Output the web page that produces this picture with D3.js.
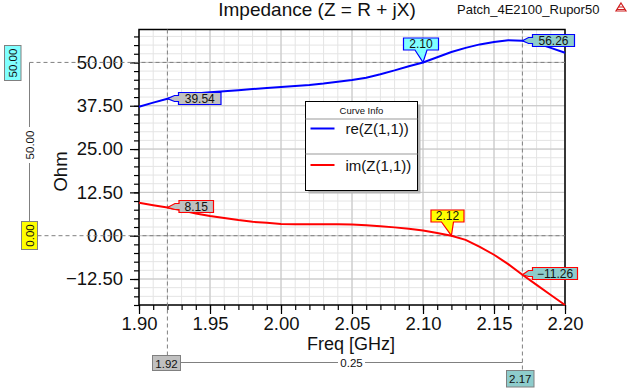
<!DOCTYPE html>
<html>
<head>
<meta charset="utf-8">
<script src="https://cdn.jsdelivr.net/npm/d3@7"></script>
<style>
  body { margin: 0; background: #fff; }
  svg { font-family: "Liberation Sans", Arial, sans-serif; }
</style>
</head>
<body>
<svg id="chart" width="636" height="389"></svg>
<script>
// frequency sweep (GHz) and the two curves
let freq = [1.90, 1.91, 1.92, 1.93, 1.94, 1.95, 1.96, 1.97, 1.98, 1.99, 2.00,
            2.01, 2.02, 2.03, 2.04, 2.05, 2.06, 2.07, 2.08, 2.09, 2.10,
            2.11, 2.12, 2.13, 2.14, 2.15, 2.16, 2.17, 2.18, 2.19, 2.20]
let reZ = [37.2, 38.4, 39.54, 40.4, 41.0, 41.4, 41.7, 42.0, 42.3, 42.6, 42.9,
           43.2, 43.5, 43.9, 44.4, 44.9, 45.6, 46.6, 47.7, 48.9, 50.0,
           51.5, 53.0, 54.2, 55.2, 55.9, 56.4, 56.26, 55.6, 54.2, 52.8]
let imZ = [9.5, 8.8, 8.15, 7.3, 6.4, 5.7, 5.1, 4.5, 4.0, 3.7, 3.4,
           3.3, 3.3, 3.3, 3.3, 3.2, 3.0, 2.7, 2.4, 2.0, 1.5,
           0.8, 0.0, -1.2, -3.2, -5.5, -8.2, -11.26, -14.2, -17.1, -20.0]

let seriesNames = ["re(Z(1,1))", "im(Z(1,1))"]
let seriesColors = ["#0000ff", "#ff0000"]

let xTicks = [1.90, 1.95, 2.00, 2.05, 2.10, 2.15, 2.20]
let yTicks = [-12.5, 0, 12.5, 25, 37.5, 50]

// x markers (m1, m2) with the values they read on each curve
let markerFreq = [1.92, 2.17]
let markerRe = [39.54, 56.26]
let markerIm = [8.15, -11.26]
// y markers
let yMarkers = [50, 0]
// x at which the curves cross the y markers
let crossRe = 2.10
let crossIm = 2.12

let pLeft = 139, pRight = 565, pTop = 29.5, pBottom = 305

let svg = d3.select("#chart")

let x = d3.scaleLinear().domain([1.9, 2.2]).range([pLeft, pRight])
let y = d3.scaleLinear().domain([-20, 59.5]).range([pBottom, pTop])

let xMinor = d3.range(0, 31).map(i => 1.9 + i * 0.01)
let yMinor = d3.range(0, 32).map(i => -20 + i * 2.5)

// grid
let grid = svg.append("g")
grid.selectAll(".vminor").data(xMinor)
  .enter().append("line")
  .attr("x1", d => x(d)).attr("x2", d => x(d))
  .attr("y1", pTop).attr("y2", pBottom)
  .attr("stroke", "#e4e4e4")
grid.selectAll(".hminor").data(yMinor)
  .enter().append("line")
  .attr("x1", pLeft).attr("x2", pRight)
  .attr("y1", d => y(d)).attr("y2", d => y(d))
  .attr("stroke", "#e4e4e4")
grid.selectAll(".vmajor").data(xTicks)
  .enter().append("line")
  .attr("x1", d => x(d)).attr("x2", d => x(d))
  .attr("y1", pTop).attr("y2", pBottom)
  .attr("stroke", "#c4c4c4")
grid.selectAll(".hmajor").data(yTicks)
  .enter().append("line")
  .attr("x1", pLeft).attr("x2", pRight)
  .attr("y1", d => y(d)).attr("y2", d => y(d))
  .attr("stroke", "#c4c4c4")

// frame
svg.append("rect")
  .attr("x", pLeft).attr("y", pTop)
  .attr("width", pRight - pLeft).attr("height", pBottom - pTop)
  .attr("fill", "none").attr("stroke", "#000").attr("stroke-width", 1.5)

// axes
let yAxisMinor = d3.axisLeft(y).tickValues(yMinor).tickSize(5).tickFormat("")
svg.append("g").attr("transform", `translate(${pLeft},0)`).call(yAxisMinor)
let yAxis = d3.axisLeft(y).tickValues(yTicks).tickSize(9).tickPadding(7)
  .tickFormat(d3.format(".2f"))
let gy = svg.append("g").attr("transform", `translate(${pLeft},0)`).call(yAxis)

let xAxisMinor = d3.axisBottom(x).tickValues(xMinor).tickSize(5).tickFormat("")
svg.append("g").attr("transform", `translate(0,${pBottom})`).call(xAxisMinor)
let xAxis = d3.axisBottom(x).tickValues(xTicks).tickSize(9).tickPadding(2.5)
  .tickFormat(d3.format(".2f"))
let gx = svg.append("g").attr("transform", `translate(0,${pBottom})`).call(xAxis)

svg.selectAll(".domain").remove()
svg.selectAll(".tick line").attr("stroke", "#000").attr("stroke-width", 1.2)
gy.selectAll("text").attr("font-size", 18.5).attr("fill", "#111")
  .attr("font-family", "Liberation Sans, Arial, sans-serif")
gx.selectAll("text").attr("font-size", 18.5).attr("fill", "#111")
  .attr("font-family", "Liberation Sans, Arial, sans-serif")

// titles
svg.append("text").attr("x", 317).attr("y", 16).attr("text-anchor", "middle")
  .attr("font-size", 19).attr("fill", "#111").text("Impedance (Z = R + jX)")
svg.append("text").attr("x", 457).attr("y", 14)
  .attr("font-size", 13).attr("fill", "#111").text("Patch_4E2100_Rupor50")
svg.append("text").attr("x", 351).attr("y", 349.5).attr("text-anchor", "middle")
  .attr("font-size", 18).attr("fill", "#111").text("Freq [GHz]")
svg.append("text").attr("transform", "translate(66.5,171.5) rotate(-90)")
  .attr("text-anchor", "middle")
  .attr("font-size", 18.5).attr("fill", "#111").text("Ohm")

// small logo at the top right
let logo = svg.append("g").attr("transform", "translate(621,3)")
logo.append("path").attr("d", "M0,0 L5,8 L-5,8 Z").attr("fill", "none")
  .attr("stroke", "#d02020").attr("stroke-width", 1.2)
logo.append("path").attr("d", "M-2.5,4 L2.5,4 M-4,6.5 L4,6.5").attr("stroke", "#d02020")

// dashed marker lines
let dash = "4,3"
markerFreq.forEach((f, i) => {
  svg.append("line")
    .attr("x1", x(f)).attr("x2", x(f))
    .attr("y1", pTop).attr("y2", i == 0 ? 356 : 370)
    .attr("stroke", "#808080").attr("stroke-dasharray", dash)
})
yMarkers.forEach((v, i) => {
  svg.append("line")
    .attr("x1", i == 0 ? 29.5 : 37.5).attr("x2", pRight)
    .attr("y1", y(v)).attr("y2", y(v))
    .attr("stroke", "#808080").attr("stroke-dasharray", dash)
})

// curves
let line = d3.line().x(d => x(d[0])).y(d => y(d[1]))
let curves = [reZ, imZ]
curves.forEach((vals, i) => {
  svg.append("path")
    .datum(freq.map((f, k) => [f, vals[k]]))
    .attr("d", line)
    .attr("fill", "none")
    .attr("stroke", seriesColors[i])
    .attr("stroke-width", 2)
})

// legend
let lg = svg.append("g").attr("transform", "translate(305.5,101.5)")
lg.append("rect").attr("x", 3).attr("y", 3).attr("width", 112).attr("height", 89).attr("fill", "#b4b4b4")
lg.append("rect").attr("width", 112).attr("height", 89).attr("fill", "#fff").attr("stroke", "#000")
lg.append("text").attr("x", 56).attr("y", 12).attr("text-anchor", "middle")
  .attr("font-size", 9.5).attr("fill", "#111").text("Curve Info")
lg.append("line").attr("x1", 0).attr("x2", 112).attr("y1", 17.5).attr("y2", 17.5).attr("stroke", "#999")
lg.append("line").attr("x1", 0).attr("x2", 112).attr("y1", 52.5).attr("y2", 52.5).attr("stroke", "#999")
seriesNames.forEach((name, i) => {
  let cy = 27 + i * 36.5
  lg.append("line").attr("x1", 5).attr("x2", 29).attr("y1", cy).attr("y2", cy)
    .attr("stroke", seriesColors[i]).attr("stroke-width", 2)
  lg.append("text").attr("x", 40).attr("y", cy + 5.5)
    .attr("font-size", 15).attr("fill", "#111").text(name)
})

// callout with a pointer to the left
function sideCallout(px, py, bx, by, w, h, fill, stroke, label) {
  let g = svg.append("g")
  let my = by + h / 2
  g.append("path")
    .attr("d", `M${px},${py} L${bx - 4},${my - 3} L${bx},${my - 3} L${bx},${by} L${bx + w},${by} L${bx + w},${by + h} L${bx},${by + h} L${bx},${my + 3} L${bx - 4},${my + 3} Z`)
    .attr("fill", fill).attr("stroke", stroke).attr("stroke-width", 1.2)
  g.append("text").attr("x", bx + w / 2).attr("y", by + h / 2 + 4.3)
    .attr("text-anchor", "middle").attr("font-size", 12).attr("fill", "#111").text(label)
}
// callout with a pointer below
function downCallout(px, py, bx, by, w, h, fill, stroke, label) {
  let g = svg.append("g")
  let mx = bx + w / 2
  g.append("path")
    .attr("d", `M${bx},${by} L${bx + w},${by} L${bx + w},${by + h} L${mx + 6},${by + h} L${px},${py} L${mx - 6},${by + h} L${bx},${by + h} Z`)
    .attr("fill", fill).attr("stroke", stroke).attr("stroke-width", 1.2)
  g.append("text").attr("x", mx).attr("y", by + h / 2 + 4.3)
    .attr("text-anchor", "middle").attr("font-size", 12).attr("fill", "#111").text(label)
}

let fmt = d3.format(".2f")
sideCallout(x(markerFreq[0]), y(markerRe[0]), 178.5, 92.5, 42.5, 12, "#c0c0c0", "#0000ff", fmt(markerRe[0]))
sideCallout(x(markerFreq[1]), y(markerRe[1]), 532.5, 34.5, 42, 12, "#8ecccc", "#0000ff", fmt(markerRe[1]))
sideCallout(x(markerFreq[0]), y(markerIm[0]), 179, 200.5, 34.5, 12, "#c0c0c0", "#ff0000", fmt(markerIm[0]))
sideCallout(x(markerFreq[1]), y(markerIm[1]), 532.5, 267.5, 45, 12, "#8ecccc", "#ff0000", fmt(markerIm[1]))
downCallout(x(crossRe), y(yMarkers[0]), 403.5, 38, 35, 12, "#80ffff", "#0000ff", fmt(crossRe))
downCallout(x(crossIm), y(yMarkers[1]), 431, 210, 33, 12, "#ffff00", "#ff0000", fmt(crossIm))

// delta between x markers
svg.append("line").attr("x1", 180.5).attr("x2", x(markerFreq[1]))
  .attr("y1", 362.5).attr("y2", 362.5).attr("stroke", "#808080")
svg.append("rect").attr("x", 338).attr("y", 356).attr("width", 27).attr("height", 13).attr("fill", "#fff")
svg.append("text").attr("x", 351.5).attr("y", 366.5).attr("text-anchor", "middle")
  .attr("font-size", 11.5).attr("fill", "#111").text(fmt(markerFreq[1] - markerFreq[0]))
svg.append("rect").attr("x", 152.5).attr("y", 355.5).attr("width", 28).attr("height", 15)
  .attr("fill", "#c0c0c0").attr("stroke", "#808080")
svg.append("text").attr("x", 166.5).attr("y", 367.5).attr("text-anchor", "middle")
  .attr("font-size", 11.5).attr("fill", "#111").text(fmt(markerFreq[0]))
svg.append("rect").attr("x", 506.5).attr("y", 370.5).attr("width", 27.5).attr("height", 16.5)
  .attr("fill", "#8ecccc").attr("stroke", "#808080")
svg.append("text").attr("x", 520.3).attr("y", 383).attr("text-anchor", "middle")
  .attr("font-size", 11.5).attr("fill", "#111").text(fmt(markerFreq[1]))

// delta between y markers (left side)
svg.append("line").attr("x1", 29.5).attr("x2", 29.5)
  .attr("y1", y(yMarkers[0])).attr("y2", 222).attr("stroke", "#808080")
svg.append("rect").attr("x", 23).attr("y", 127).attr("width", 13).attr("height", 36).attr("fill", "#fff")
svg.append("text").attr("transform", "translate(34,145) rotate(-90)").attr("text-anchor", "middle")
  .attr("font-size", 11.5).attr("fill", "#111").text(fmt(yMarkers[0] - yMarkers[1]))
svg.append("rect").attr("x", 4.5).attr("y", 45.5).attr("width", 16.5).attr("height", 35)
  .attr("fill", "#80ffff").attr("stroke", "#808080")
svg.append("text").attr("transform", `translate(17,63) rotate(-90)`).attr("text-anchor", "middle")
  .attr("font-size", 11.5).attr("fill", "#111").text(fmt(yMarkers[0]))
svg.append("rect").attr("x", 21.5).attr("y", 221.5).attr("width", 16).attr("height", 28)
  .attr("fill", "#ffff00").attr("stroke", "#808080")
svg.append("text").attr("transform", `translate(33.8,235.5) rotate(-90)`).attr("text-anchor", "middle")
  .attr("font-size", 11.5).attr("fill", "#111").text(fmt(yMarkers[1]))
</script>
</body>
</html>
